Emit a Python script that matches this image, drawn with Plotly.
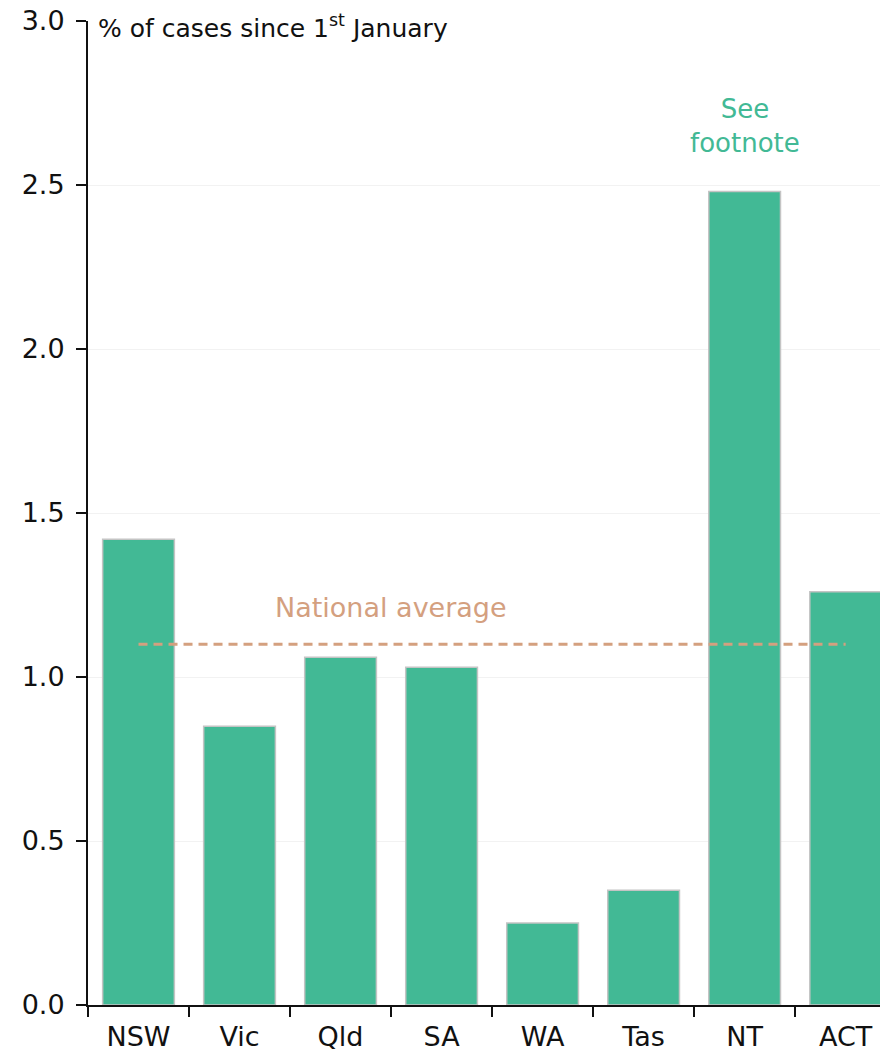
import plotly.graph_objects as go

states = ["NSW", "Vic", "Qld", "SA", "WA", "Tas", "NT", "ACT"]
case_share = [1.42, 0.85, 1.06, 1.03, 0.25, 0.35, 2.48, 1.26]
national_average = 1.10
y_ticks = [0.0, 0.5, 1.0, 1.5, 2.0, 2.5, 3.0]

BAR = "#42b995"
AVG = "#d4a07f"
FONT = "DejaVu Sans"

fig = go.Figure()

fig.add_trace(go.Bar(
    x=states, y=case_share,
    marker=dict(color=BAR, line=dict(color="#c4c4c4", width=1.5)),
    hoverinfo="skip",
))

fig.add_trace(go.Scatter(
    x=[states[0], states[-1]], y=[national_average, national_average],
    mode="lines",
    line=dict(color=AVG, width=3, dash="9px,6px"),
    hoverinfo="skip",
))

fig.add_annotation(x=2.5, y=national_average, yshift=37, text="National average",
                   showarrow=False, font=dict(family=FONT, size=27, color=AVG))
fig.add_annotation(x="NT", y=2.48, yshift=66, text="See<br>footnote",
                   showarrow=False, font=dict(family=FONT, size=26, color=BAR))
fig.add_annotation(xref="paper", yref="paper", x=0.01, y=1.0, yshift=-5,
                   xanchor="left", yanchor="middle",
                   text="% of cases since 1<sup>st</sup> January", showarrow=False,
                   font=dict(family=FONT, size=25, color="#111111"))

fig.update_layout(
    width=880, height=1053,
    margin=dict(l=88, r=0, t=21, b=48),
    paper_bgcolor="white", plot_bgcolor="white",
    showlegend=False, bargap=0.29,
    font=dict(family=FONT, size=24, color="#111111"),
)
fig.update_xaxes(
    range=[-0.5, 7.34], showline=True, linecolor="#111111", linewidth=2,
    ticks="outside", ticklen=10, tickwidth=2, tickcolor="#111111",
    tickson="boundaries", showgrid=False, tickfont=dict(size=27),
    ticklabelstandoff=7, automargin=False,
)
fig.update_yaxes(
    range=[0, 3.0], tickvals=y_ticks, tickformat=".1f",
    showline=True, linecolor="#111111", linewidth=2,
    ticks="outside", ticklen=10, tickwidth=2, tickcolor="#111111",
    showgrid=True, gridcolor="#f2f2f2", gridwidth=1, zeroline=False,
    tickfont=dict(size=27), ticklabelstandoff=6, automargin=False,
)

fig.write_html("out.html")
